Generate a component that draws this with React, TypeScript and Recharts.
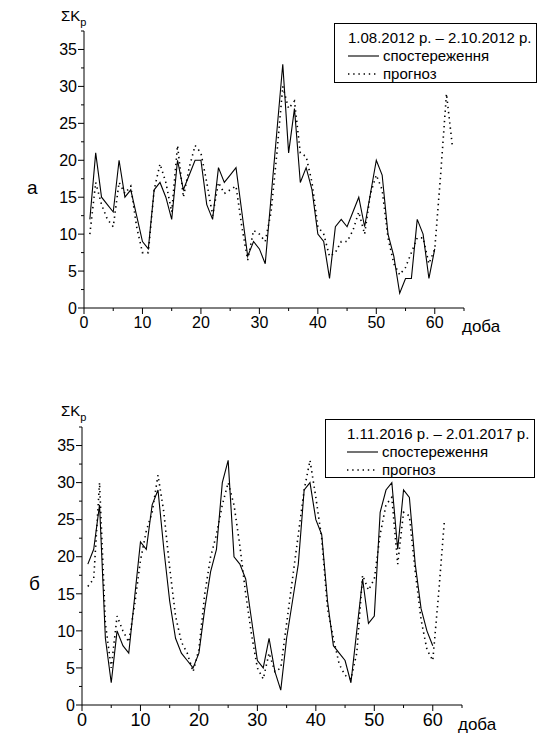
import React from "react";
import { Line, LineChart, XAxis, YAxis } from "recharts";

// days (доба)
const daysA = [
  1, 2, 3, 4, 5, 6, 7, 8, 9, 10, 11, 12, 13, 14, 15, 16, 17, 18, 19, 20, 21,
  22, 23, 24, 25, 26, 27, 28, 29, 30, 31, 32, 33, 34, 35, 36, 37, 38, 39, 40,
  41, 42, 43, 44, 45, 46, 47, 48, 49, 50, 51, 52, 53, 54, 55, 56, 57, 58, 59,
  60, 61, 62, 63,
];
const daysB = daysA.slice(0, 62);

// panel а: 1.08.2012 – 2.10.2012
const obsA = [
  12, 21, 15, 14, 13, 20, 15, 16, 12.5, 9,
  8, 16, 17, 15, 12, 20, 16, 18, 20, 20,
  14, 12, 19, 17, 18, 19, 13, 7, 9, 8,
  6, 15, 24, 33, 21, 27, 17, 19, 16, 10,
  9, 4, 11, 12, 11, 13, 15, 11, 15.5, 20,
  18, 10, 7, 2, 4, 4, 12, 10, 4, 8,
];
const fcA = [
  10, 17, 14, 12, 11, 17, 15.5, 16.5, 11, 7.5,
  7.5, 16, 19.5, 17, 13, 22, 15, 19, 22, 21,
  17, 12.5, 17, 15.5, 16, 16.5, 11, 6.5, 10.5, 10,
  9, 13, 21, 30, 27, 28, 21, 20.5, 17, 11,
  10, 7, 7.5, 9, 9, 10.5, 13, 10, 15.5, 18,
  16, 9.5, 6, 4.5, 5.5, 7.5, 9.5, 9.5, 6, 8,
  18, 29, 22,
];

// panel б: 1.11.2016 – 2.01.2017
const obsB = [
  19, 21, 27, 9, 3, 10, 8, 7, 14.5, 22,
  21, 27, 29, 21, 14, 9, 7, 6, 5, 7,
  13, 18, 21, 30, 33, 20, 19, 17, 11.5, 6,
  5, 9, 4.5, 2, 9, 14, 19, 29, 30, 25,
  23, 14, 8, 7, 6, 3, 10, 17, 11, 12,
  26, 29, 30, 21, 29, 28, 19, 13, 10, 8,
];
const fcB = [
  16, 17, 30, 11, 5, 12, 10, 8.5, 13.5, 19.5,
  23.5, 26, 31, 26, 18.5, 12, 8.5, 7, 4.5, 7.5,
  15, 20, 23, 27, 30, 27, 21.5, 15, 9.5, 5,
  3.5, 7, 4.5, 5, 11, 17, 23, 29, 33, 28,
  22.5, 13, 9, 5.5, 4, 3.5, 7, 17.5, 15.5, 17,
  23, 27, 28, 19, 26, 25.5, 18, 11.5, 7.5, 6,
  15, 25,
];

const xTicks = [0, 5, 10, 15, 20, 25, 30, 35, 40, 45, 50, 55, 60, 65];
const yTicks = [0, 2.5, 5, 7.5, 10, 12.5, 15, 17.5, 20, 22.5, 25, 27.5, 30, 32.5, 35, 37.5];

const FONT = "Arial, 'Liberation Sans', sans-serif";

function build(days: number[], obs: number[], fc: number[]) {
  return days.map((d, i) => ({
    day: d,
    obs: i < obs.length ? obs[i] : null,
    fc: i < fc.length ? fc[i] : null,
  }));
}

const YTick = (props: any) => {
  const { x, y, payload } = props;
  const major = payload.value % 5 === 0;
  return (
    <g>
      <line x1={x} x2={x - (major ? 6 : 3)} y1={y} y2={y} stroke="#000" />
      {major && (
        <text x={x - 7} y={y} dy="0.36em" textAnchor="end" fontSize={16} fontFamily={FONT} fill="#000">
          {payload.value}
        </text>
      )}
    </g>
  );
};

const makeXTick = (fontSize: number) => (props: any) => {
  const { x, y, payload } = props;
  const major = payload.value % 10 === 0 && payload.value <= 60;
  return (
    <g>
      <line x1={x} x2={x} y1={y} y2={y + (major ? 6 : 3)} stroke="#000" />
      {major && (
        <text x={x} y={y + 7} dy="0.8em" textAnchor="middle" fontSize={fontSize} fontFamily={FONT} fill="#000">
          {payload.value}
        </text>
      )}
    </g>
  );
};

function Panel({
  data,
  height,
  margin,
  yWidth,
  xHeight,
  xFont,
}: {
  data: any[];
  height: number;
  margin: any;
  yWidth: number;
  xHeight: number;
  xFont: number;
}) {
  return (
    <LineChart width={538} height={height} data={data} margin={margin}>
      <XAxis
        dataKey="day"
        type="number"
        domain={[0, 65]}
        ticks={xTicks}
        interval={0}
        height={xHeight}
        axisLine={{ stroke: "#000" }}
        tickLine={false}
        tickSize={0}
        tickMargin={0}
        tick={makeXTick(xFont)}
      />
      <YAxis
        type="number"
        domain={[0, 37.5]}
        ticks={yTicks}
        interval={0}
        width={yWidth}
        axisLine={{ stroke: "#000" }}
        tickLine={false}
        tickSize={0}
        tickMargin={0}
        tick={<YTick />}
      />
      <Line
        dataKey="obs"
        type="linear"
        stroke="#000"
        strokeWidth={1.1}
        dot={false}
        isAnimationActive={false}
      />
      <Line
        dataKey="fc"
        type="linear"
        stroke="#000"
        strokeWidth={1.6}
        strokeDasharray="1.4 3.8"
        dot={false}
        isAnimationActive={false}
      />
    </LineChart>
  );
}

function LegendBox({ left, top, width, height, inset, period }: any) {
  const row = (y: number): React.CSSProperties => ({
    position: "absolute",
    top: y - 9,
    left: inset,
    height: 18,
    lineHeight: "18px",
    whiteSpace: "nowrap",
  });
  return (
    <div
      style={{
        position: "absolute",
        left,
        top,
        width,
        height,
        border: "1px solid #000",
        background: "#fff",
        fontFamily: FONT,
        fontSize: 15,
        color: "#000",
      }}
    >
      <div style={row(14)}>{period}</div>
      <div style={row(32)}>
        <svg width={31} height={18} style={{ verticalAlign: "top" }}>
          <line x1={0} x2={31} y1={9} y2={9} stroke="#000" strokeWidth={1.1} />
        </svg>
        <span style={{ marginLeft: 4 }}>спостереження</span>
      </div>
      <div style={row(50)}>
        <svg width={31} height={18} style={{ verticalAlign: "top" }}>
          <line x1={0} x2={31} y1={9} y2={9} stroke="#000" strokeWidth={1.6} strokeDasharray="1.4 3.8" />
        </svg>
        <span style={{ marginLeft: 4 }}>прогноз</span>
      </div>
    </div>
  );
}

function Label({ left, top, size, children }: any) {
  return (
    <div style={{ position: "absolute", left, top, fontFamily: FONT, fontSize: size, color: "#000", lineHeight: 1, whiteSpace: "nowrap" }}>
      {children}
    </div>
  );
}

function SigmaKp({ left, top }: any) {
  return (
    <Label left={left} top={top} size={15}>
      ΣK<sub style={{ fontSize: 11, verticalAlign: "-5px" }}>p</sub>
    </Label>
  );
}

export default function App() {
  const dataA = build(daysA, obsA, fcA);
  const dataB = build(daysB, obsB, fcB);
  return (
    <div style={{ position: "absolute", left: 0, top: 0, width: 538, height: 734, background: "#fff" }}>
      <div style={{ position: "absolute", left: 0, top: 0 }}>
        <Panel
          data={dataA}
          height={360}
          margin={{ top: 31, right: 74, left: 0, bottom: 0 }}
          yWidth={84}
          xHeight={52}
          xFont={16}
        />
      </div>
      <div style={{ position: "absolute", left: 0, top: 380 }}>
        <Panel
          data={dataB}
          height={354}
          margin={{ top: 47, right: 76, left: 0, bottom: 0 }}
          yWidth={82}
          xHeight={29}
          xFont={18}
        />
      </div>

      <SigmaKp left={61} top={8} />
      <SigmaKp left={61} top={403} />
      <Label left={27} top={178} size={19}>а</Label>
      <Label left={29} top={574} size={19}>б</Label>
      <Label left={462} top={318} size={17}>доба</Label>
      <Label left={458} top={716} size={17}>доба</Label>

      <LegendBox left={334} top={23} width={201} height={58} inset={13} period="1.08.2012 р. – 2.10.2012 р." />
      <LegendBox left={325} top={419} width={208} height={57} inset={21} period="1.11.2016 р. – 2.01.2017 р." />
    </div>
  );
}
